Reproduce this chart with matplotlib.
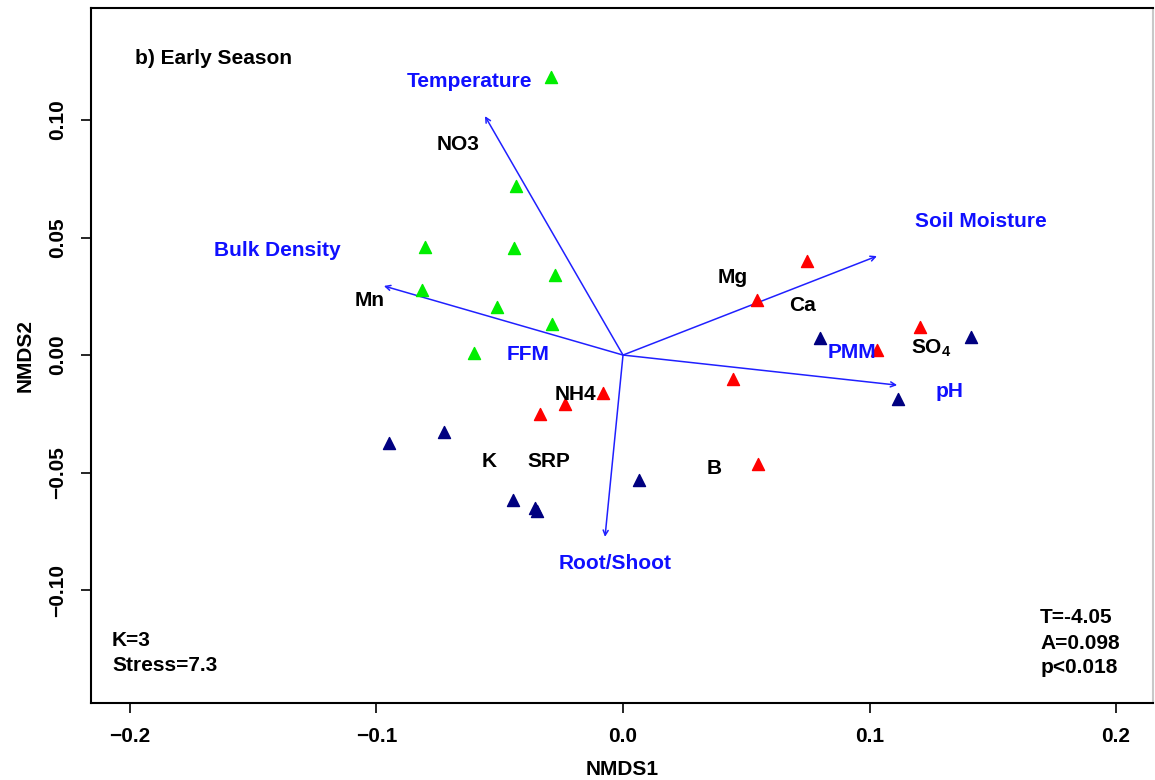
import matplotlib.pyplot as plt

plt.rcParams["font.family"] = ["Liberation Sans", "DejaVu Sans"]
plt.rcParams["font.weight"] = "bold"
plt.rcParams["axes.labelweight"] = "bold"
plt.rcParams["mathtext.fontset"] = "custom"
plt.rcParams["mathtext.rm"] = "Liberation Sans:bold"
plt.rcParams["mathtext.bf"] = "Liberation Sans:bold"

# site scores (NMDS1, NMDS2) by group
green_x = [-0.0292, -0.0434, -0.0803, -0.0442, -0.0276, -0.0815, -0.0511, -0.0288, -0.0604]
green_y = [0.1183, 0.0719, 0.0460, 0.0455, 0.0340, 0.0277, 0.0204, 0.0132, 0.0009]
red_x = [0.0746, 0.0544, 0.1205, 0.1030, 0.0446, -0.0081, -0.0235, -0.0337, 0.0548]
red_y = [0.0400, 0.0234, 0.0119, 0.0021, -0.0102, -0.0162, -0.0209, -0.0251, -0.0464]
navy_x = [0.0799, 0.1412, 0.1116, -0.0949, -0.0726, -0.0446, -0.0357, -0.0349, 0.0065]
navy_y = [0.0072, 0.0077, -0.0187, -0.0374, -0.0328, -0.0617, -0.0650, -0.0662, -0.0532]

# environmental vectors
vec_names = ["Temperature", "Bulk Density", "Soil Moisture", "pH", "Root/Shoot"]
vec_x = [-0.0560, -0.0970, 0.1030, 0.1112, -0.0073]
vec_y = [0.1017, 0.0294, 0.0421, -0.0128, -0.0774]

# blue variable labels
blue_labels = ["Temperature", "Bulk Density", "FFM", "Root/Shoot", "Soil Moisture", "PMM", "pH"]
blue_lx = [-0.0621, -0.1404, -0.0385, -0.0032, 0.1452, 0.0929, 0.1323]
blue_ly = [0.1166, 0.0447, 0.0004, -0.0889, 0.0570, 0.0009, -0.0153]

# black nutrient labels
black_labels = ["NO3", "Mn", "NH4", "K", "SRP", "B", "Mg", "Ca", r"SO$_4$"]
black_lx = [-0.0669, -0.1026, -0.0195, -0.0544, -0.0300, 0.0369, 0.0446, 0.0730, 0.1249]
black_ly = [0.0898, 0.0234, -0.0166, -0.0455, -0.0451, -0.0481, 0.0332, 0.0209, 0.0030]

fig = plt.figure(figsize=(11.55, 7.8), dpi=100)
ax = fig.add_axes([0.0788, 0.0987, 0.9195, 0.891])

ax.scatter(green_x, green_y, marker="^", s=75, color="#00ee00", zorder=3)
ax.scatter(red_x, red_y, marker="^", s=75, color="#ff0000", zorder=3)
ax.scatter(navy_x, navy_y, marker="^", s=75, color="#000080", zorder=3)

for vx, vy in zip(vec_x, vec_y):
    ax.annotate("", xy=(vx, vy), xytext=(0, 0),
                arrowprops=dict(arrowstyle="->", color="#2020ff", lw=1.1,
                                mutation_scale=9, shrinkA=0, shrinkB=0),
                zorder=2)

for t, lx, ly in zip(blue_labels, blue_lx, blue_ly):
    ax.text(lx, ly, t, color="#1010ff", fontsize=15, ha="center", va="center", zorder=4)
for t, lx, ly in zip(black_labels, black_lx, black_ly):
    ax.text(lx, ly, t, color="black", fontsize=15, ha="center", va="center", zorder=4)

ax.text(-0.1980, 0.1264, "b) Early Season", fontsize=15, ha="left", va="center")
ax.text(-0.2073, -0.1217, "K=3", fontsize=15, ha="left", va="center")
ax.text(-0.2073, -0.1323, "Stress=7.3", fontsize=15, ha="left", va="center")
ax.text(0.1692, -0.1119, "T=-4.05", fontsize=15, ha="left", va="center")
ax.text(0.1692, -0.1226, "A=0.098", fontsize=15, ha="left", va="center")
ax.text(0.1692, -0.1328, "p<0.018", fontsize=15, ha="left", va="center")

ax.set_xlim(-0.2158, 0.215)
ax.set_ylim(-0.1481, 0.1477)
ax.set_xticks([-0.2, -0.1, 0.0, 0.1, 0.2])
ax.set_xticklabels(["\u22120.2", "\u22120.1", "0.0", "0.1", "0.2"])
ax.set_yticks([-0.10, -0.05, 0.0, 0.05, 0.10])
ax.set_yticklabels(["\u22120.10", "\u22120.05", "0.00", "0.05", "0.10"], rotation=90, va="center")
ax.tick_params(direction="out", length=7, width=1.2, labelsize=15, pad=10)
for sp in ax.spines.values():
    sp.set_linewidth(1.5)
ax.spines["right"].set_color("#c8c8c8")

ax.set_xlabel("NMDS1", fontsize=15, labelpad=10)
ax.set_ylabel("NMDS2", fontsize=15, labelpad=10)

fig.savefig("out.png", dpi=100)
